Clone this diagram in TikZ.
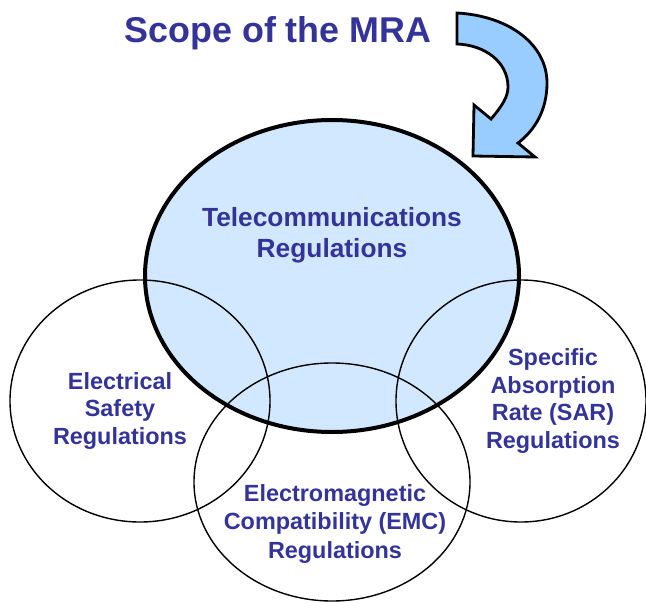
\documentclass[tikz,border=0pt]{standalone}
\usepackage{fontspec}
\setmainfont{Liberation Sans}
\definecolor{txtblue}{RGB}{51,51,153}
\definecolor{lightfill}{RGB}{210,232,255}
\definecolor{arrowfill}{RGB}{153,204,255}
\tikzset{
  lbl/.style={text=txtblue, font=\bfseries\fontsize{23.5}{27.5}\selectfont, align=center, anchor=base, inner sep=0pt},
  venn/.style={draw=black, line width=1.4bp},
}
\begin{document}
\begin{tikzpicture}[x=1bp,y=-1bp]
\useasboundingbox (0,0) rectangle (646,603);
% big ellipse fill
\fill[lightfill] (332,276) ellipse [x radius=187, y radius=156];
% thin circles
\draw[venn] (140,401) ellipse [x radius=130, y radius=121];
\draw[venn] (521,401) ellipse [x radius=125, y radius=121];
\draw[venn] (332,482) ellipse [x radius=138, y radius=119];
% big ellipse border
\draw[line width=4bp] (332,276) ellipse [x radius=187, y radius=156];
% curved arrow
\draw[fill=arrowfill, line width=2.8bp, line join=miter]
  (457,13) .. controls (510,16) and (547,45) .. (547,83)
  .. controls (547,110) and (535,130) .. (518,143)
  -- (535,157) -- (473,156) -- (474,105) -- (491,119)
  .. controls (503,105) and (508,96) .. (508,87)
  .. controls (508,62) and (485,45) .. (457,44) -- cycle;
% texts (anchor = baseline of last line)
\node[lbl, font=\bfseries\fontsize{36}{40}\selectfont] (title) at (278,43) {Scope of the MRA};
\node[lbl, font=\bfseries\fontsize{26.4}{31}\selectfont] (tele) at (332,257) {Telecommunications\\Regulations};
\node[lbl] (elec) at (120,444) {Electrical\\Safety\\Regulations};
\node[lbl] (sar) at (553,448) {Specific\\Absorption\\Rate (SAR)\\Regulations};
\node[lbl, font=\bfseries\fontsize{23.5}{28.5}\selectfont] (emc) at (335,558) {Electromagnetic\\Compatibility (EMC)\\Regulations};
\end{tikzpicture}
\end{document}
